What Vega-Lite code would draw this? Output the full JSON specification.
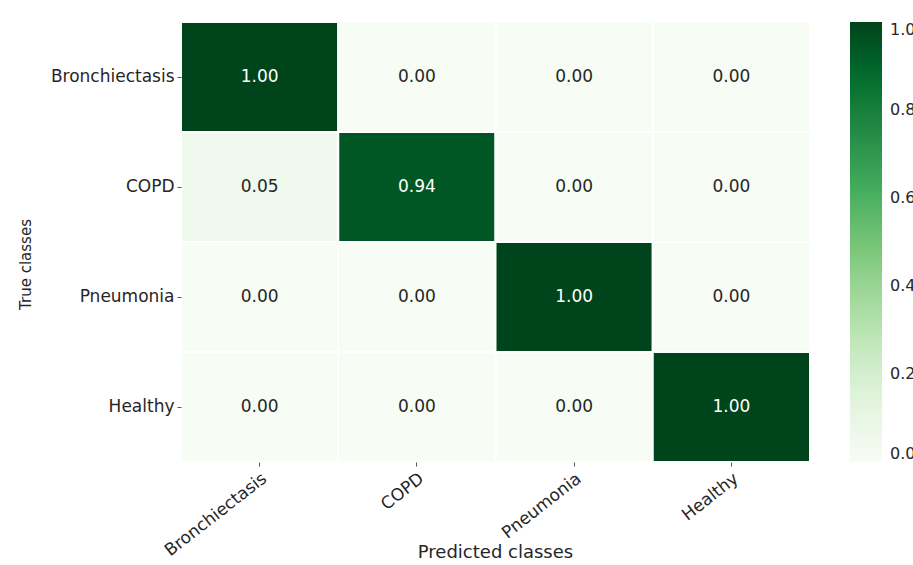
{
  "$schema": "https://vega.github.io/schema/vega-lite/v6.json",
  "width": 629,
  "height": 440,
  "autosize": "none",
  "padding": {"left": 181, "top": 22, "right": 103, "bottom": 103},
  "background": "white",
  "config": {
    "font": "DejaVu Sans",
    "view": {"stroke": null}
  },
  "data": {
    "values": [
      {"true": "Bronchiectasis", "pred": "Bronchiectasis", "v": 1.00},
      {"true": "Bronchiectasis", "pred": "COPD", "v": 0.00},
      {"true": "Bronchiectasis", "pred": "Pneumonia", "v": 0.00},
      {"true": "Bronchiectasis", "pred": "Healthy", "v": 0.00},
      {"true": "COPD", "pred": "Bronchiectasis", "v": 0.05},
      {"true": "COPD", "pred": "COPD", "v": 0.94},
      {"true": "COPD", "pred": "Pneumonia", "v": 0.00},
      {"true": "COPD", "pred": "Healthy", "v": 0.00},
      {"true": "Pneumonia", "pred": "Bronchiectasis", "v": 0.00},
      {"true": "Pneumonia", "pred": "COPD", "v": 0.00},
      {"true": "Pneumonia", "pred": "Pneumonia", "v": 1.00},
      {"true": "Pneumonia", "pred": "Healthy", "v": 0.00},
      {"true": "Healthy", "pred": "Bronchiectasis", "v": 0.00},
      {"true": "Healthy", "pred": "COPD", "v": 0.00},
      {"true": "Healthy", "pred": "Pneumonia", "v": 0.00},
      {"true": "Healthy", "pred": "Healthy", "v": 1.00}
    ]
  },
  "encoding": {
    "x": {
      "field": "pred", "type": "nominal",
      "sort": ["Bronchiectasis", "COPD", "Pneumonia", "Healthy"],
      "scale": {"paddingInner": 0, "paddingOuter": 0},
      "axis": {
        "title": "Predicted classes", "titleFontSize": 18, "titleFontWeight": "normal", "titleColor": "#262626",
        "titleX": 314, "titleY": 90, "titleBaseline": "middle", "titleAlign": "center",
        "labelAngle": -38, "labelAlign": "right", "labelBaseline": "top", "labelFontSize": 17, "labelColor": "#262626",
        "domain": false, "tickColor": "#555555", "tickSize": 4, "labelPadding": 4
      }
    },
    "y": {
      "field": "true", "type": "nominal",
      "sort": ["Bronchiectasis", "COPD", "Pneumonia", "Healthy"],
      "scale": {"paddingInner": 0, "paddingOuter": 0},
      "axis": {
        "title": "True classes", "titleFontSize": 15, "titleFontWeight": "normal", "titleColor": "#262626",
        "titleX": -156, "titleY": 242, "titleBaseline": "middle", "titleAlign": "center", "titleAngle": -90,
        "labelFontSize": 17, "labelColor": "#262626",
        "domain": false, "tickColor": "#555555", "tickSize": 4, "labelPadding": 3
      }
    }
  },
  "layer": [
    {
      "mark": {"type": "rect", "stroke": "white", "strokeWidth": 2},
      "encoding": {
        "color": {
          "field": "v", "type": "quantitative",
          "scale": {
            "domain": [0, 0.125, 0.25, 0.375, 0.5, 0.625, 0.75, 0.875, 1],
            "range": ["#f7fcf5", "#e5f5e0", "#c7e9c0", "#a1d99b", "#74c476", "#41ab5d", "#238b45", "#006d2c", "#00441b"]
          },
          "legend": {
            "title": null, "orient": "none", "legendX": 669, "legendY": 0,
            "direction": "vertical", "gradientLength": 440, "gradientThickness": 32,
            "gradientStrokeWidth": 0,
            "values": [0, 0.2, 0.4, 0.6, 0.8, 1.0], "format": ".1f",
            "labelFontSize": 16, "labelColor": "#262626", "labelOffset": 8
          }
        }
      }
    },
    {
      "mark": {"type": "text", "fontSize": 17},
      "encoding": {
        "text": {"field": "v", "type": "quantitative", "format": ".2f"},
        "color": {
          "condition": {"test": "datum.v > 0.5", "value": "white"},
          "value": "#262626"
        }
      }
    }
  ]
}
